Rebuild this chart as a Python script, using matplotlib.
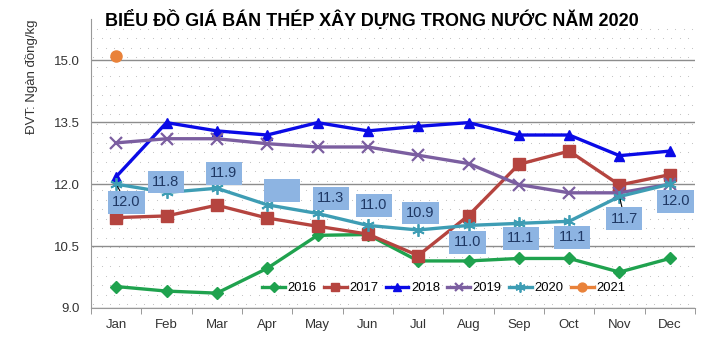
import matplotlib
matplotlib.use("Agg")
import matplotlib.pyplot as plt
import numpy as np

months = ["Jan", "Feb", "Mar", "Apr", "May", "Jun", "Jul", "Aug", "Sep", "Oct", "Nov", "Dec"]
v2016 = [9.52, 9.41, 9.36, 9.96, 10.76, 10.78, 10.14, 10.14, 10.2, 10.2, 9.87, 10.2]
v2017 = [11.19, 11.23, 11.49, 11.18, 10.98, 10.79, 10.27, 11.24, 12.48, 12.8, 11.98, 12.23]
v2018 = [12.18, 13.49, 13.29, 13.19, 13.49, 13.29, 13.4, 13.49, 13.19, 13.19, 12.69, 12.8]
v2019 = [13.0, 13.1, 13.1, 12.98, 12.9, 12.9, 12.7, 12.5, 11.99, 11.79, 11.79, 12.0]
v2020 = [12.0, 11.8, 11.9, 11.5, 11.29, 11.0, 10.89, 11.0, 11.05, 11.1, 11.7, 12.0]
v2021 = [15.1]
labels2020 = ["12.0", "11.8", "11.9", "11.5", "11.3", "11.0", "10.9", "11.0", "11.1", "11.1", "11.7", "12.0"]
yticks = [9.0, 10.5, 12.0, 13.5, 15.0]

plt.rcParams['font.family'] = ['Liberation Sans', 'DejaVu Sans']

fig = plt.figure(figsize=(7.18, 3.51), dpi=100)
ax = fig.add_axes([91/718, 1-308/351, (695-91)/718, (308-19)/351])

# dotted background texture (decorative)
W, H = 604, 289
pts_x, pts_y = [], []
for r, yy in enumerate(np.arange(4, H, 9.5)):
    shift = 0 if r % 2 == 0 else 4
    for xx in np.arange(2 + shift, W, 8.5):
        pts_x.append(xx / W)
        pts_y.append(yy / H)
ax.scatter(pts_x, pts_y, s=0.6, color='#bdbdbd', lw=0, transform=ax.transAxes, zorder=0)

x = list(range(len(months)))
lw = 2.4
ax.plot(x, v2016, color='#1FA24E', lw=lw, marker='D', ms=6, label='2016', zorder=3)
ax.plot(x, v2017, color='#B5443F', lw=lw, marker='s', ms=8, label='2017', zorder=3)
ax.plot(x, v2018, color='#0A0AE6', lw=lw, marker='^', ms=7, label='2018', zorder=3)
ax.plot(x, v2019, color='#7B5EA0', lw=lw, marker='x', ms=8, mew=1.6, label='2019', zorder=3)
ax.plot(x, v2020, color='#3E9DB4', lw=lw, marker=(6, 2, 0), ms=9, mew=1.3, label='2020', zorder=4)
ax.plot(x[:1], v2021, color='#E9823A', lw=lw, marker='o', ms=8, label='2021', zorder=3)

# data labels for 2020 (offsets in pixels -> points)
offs = [(10, -18), (-1, 10.5), (7, 15), (15, 14), (13, 15), (6, 20), (2, 17),
        (-1, -17), (2, -15), (3, -16), (5, -22), (6, -17)]
for i, (lab, (dx, dy)) in enumerate(zip(labels2020, offs)):
    tcolor = '#8DB4E2' if i == 3 else '#1F3864'
    kw = {}
    if i in (0, 10):
        kw['arrowprops'] = dict(arrowstyle='-', color='black', lw=0.8, shrinkA=0, shrinkB=2)
    ax.annotate(lab, (x[i], v2020[i]), xytext=(dx*0.72, dy*0.72), textcoords='offset points',
                ha='center', va='center', fontsize=10.5, color=tcolor,
                bbox=dict(boxstyle='square,pad=0.3', fc='#8DB4E2', ec='none'), zorder=6, **kw)

ax.set_xlim(-0.5, 11.5)
ax.set_ylim(9.0, 16.0)
ax.set_yticks(yticks)
ax.set_yticklabels([f"{v:.1f}" for v in yticks])
ax.set_xticks(x)
ax.set_xticklabels(months)
ax.set_xticks([i - 0.5 for i in range(13)], minor=True)
ax.tick_params(axis='x', which='major', length=0, pad=8, labelsize=9.5, colors='#333333')
ax.tick_params(axis='x', which='minor', length=4, color='#888888')
ax.tick_params(axis='y', length=0, pad=8, labelsize=9.5, colors='#333333')
ax.grid(axis='y', color='#8c8c8c', lw=1.0)
ax.set_axisbelow(True)
for s in ['top', 'right']:
    ax.spines[s].set_visible(False)
ax.spines['left'].set_color('#999999')
ax.spines['bottom'].set_color('#999999')

ax.set_ylabel('ĐVT: Ngàn đồng/kg', fontsize=9.5, color='#333333')
ax.yaxis.set_label_coords(-0.088, 0.80)

leg = ax.legend(ncol=6, loc='center', bbox_to_anchor=(0.584, 0.069), frameon=False,
                fontsize=9.4, handlelength=1.75, columnspacing=0.55, handletextpad=0.2,
                borderaxespad=0, markerscale=0.8)

fig.text(372/718, 1-20/351, 'BIỂU ĐỒ GIÁ BÁN THÉP XÂY DỰNG TRONG NƯỚC NĂM 2020',
         ha='center', va='center', fontsize=13, fontweight='bold', color='black')

fig.savefig('out.png', dpi=100)
